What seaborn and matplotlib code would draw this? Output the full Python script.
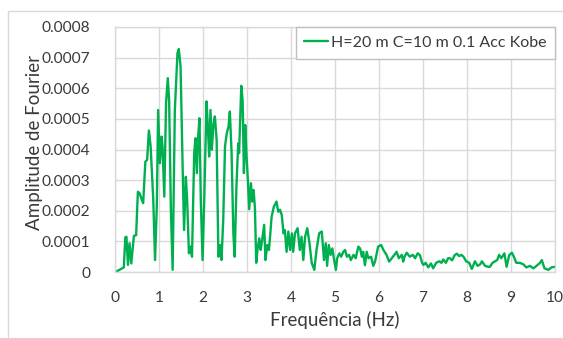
import numpy as np
import pandas as pd
import matplotlib
matplotlib.use("Agg")
import matplotlib.pyplot as plt
import seaborn as sns
from matplotlib.ticker import FuncFormatter
from matplotlib.patches import Rectangle

# Fourier amplitude spectrum (frequency in Hz, amplitude in units of 1e-4)
freq_hz = [
    0.00, 0.05, 0.10, 0.16, 0.20, 0.235, 0.26, 0.295, 0.33, 0.37, 0.43, 0.48,
    0.52, 0.56, 0.61, 0.64, 0.69, 0.73, 0.77, 0.81, 0.87, 0.91, 0.95, 0.98,
    1.02, 1.06, 1.08, 1.12, 1.16, 1.20, 1.23, 1.27, 1.31, 1.36, 1.42, 1.45,
    1.49, 1.54, 1.57, 1.61, 1.64, 1.68, 1.72, 1.75, 1.80, 1.83, 1.86, 1.89,
    1.92, 1.95, 1.99, 2.03, 2.08, 2.11, 2.14, 2.17, 2.20, 2.24, 2.27, 2.31,
    2.35, 2.39, 2.42, 2.46, 2.50, 2.54, 2.58, 2.61, 2.65, 2.69, 2.72, 2.76,
    2.80, 2.82, 2.87, 2.90, 2.93, 2.96, 2.99, 3.02, 3.05, 3.09, 3.12, 3.15,
    3.18, 3.21, 3.24, 3.28, 3.31, 3.34, 3.39, 3.42, 3.46, 3.50, 3.56, 3.61,
    3.67, 3.71, 3.75, 3.79, 3.83, 3.86, 3.90, 3.94, 3.98, 4.02, 4.05, 4.09,
    4.15, 4.20, 4.24, 4.28, 4.32, 4.37, 4.42, 4.47, 4.53, 4.58, 4.64, 4.67,
    4.70, 4.75, 4.79, 4.82, 4.86, 4.90, 4.94, 4.98, 5.02, 5.05, 5.10, 5.14,
    5.19, 5.23, 5.27, 5.32, 5.36, 5.42, 5.47, 5.53, 5.57, 5.61, 5.64, 5.68,
    5.72, 5.76, 5.82, 5.87, 5.91, 5.98, 6.05, 6.10, 6.17, 6.23, 6.29, 6.35,
    6.40, 6.45, 6.52, 6.55, 6.58, 6.63, 6.70, 6.77, 6.82, 6.88, 6.93, 6.98,
    7.01, 7.06, 7.12, 7.18, 7.23, 7.30, 7.37, 7.42, 7.46, 7.52, 7.57, 7.61,
    7.66, 7.72, 7.77, 7.82, 7.87, 7.92, 7.98, 8.05, 8.11, 8.18, 8.24, 8.30,
    8.34, 8.41, 8.48, 8.52, 8.58, 8.64, 8.69, 8.73, 8.78, 8.85, 8.90, 8.96,
    9.02, 9.07, 9.12, 9.20, 9.28, 9.35, 9.43, 9.51, 9.58, 9.66, 9.70, 9.76,
    9.85, 9.92, 10.00,
]
amp_e4 = [
    0.00, 0.03, 0.07, 0.12, 0.15, 1.13, 1.15, 0.23, 0.94, 0.28, 1.18, 1.20,
    2.62, 2.57, 2.35, 2.25, 3.60, 3.66, 4.62, 4.10, 2.35, 0.39, 2.13, 5.29,
    3.55, 4.42, 4.10, 2.46, 5.51, 6.33, 5.62, 2.03, 0.07, 5.29, 7.15, 7.28,
    6.71, 3.23, 1.37, 3.11, 2.35, 0.61, 0.83, 0.50, 3.88, 4.37, 3.23, 4.42,
    5.02, 2.35, 0.39, 2.46, 5.57, 4.75, 3.77, 5.29, 3.99, 4.86, 5.08, 4.31,
    0.50, 0.88, 0.39, 1.70, 4.10, 4.53, 4.75, 5.24, 3.88, 1.26, 0.50, 2.79,
    4.20, 3.88, 6.08, 5.62, 3.23, 4.80, 3.77, 3.00, 2.05, 2.90, 2.30, 2.68,
    2.10, 0.30, 0.75, 1.10, 0.72, 1.00, 1.54, 0.39, 0.88, 0.72, 1.81, 2.13,
    2.30, 1.97, 2.03, 1.86, 1.26, 1.37, 0.66, 1.32, 0.72, 1.26, 0.66, 1.26,
    1.43, 0.72, 1.15, 0.39, 1.15, 1.43, 0.94, 0.30, 0.07, 0.72, 1.26, 1.30,
    1.32, 0.39, 0.94, 0.20, 0.88, 0.56, 0.77, 0.39, 0.07, 0.45, 0.61, 0.50,
    0.66, 0.72, 0.50, 0.56, 0.39, 0.56, 0.45, 0.83, 0.77, 0.50, 0.66, 0.22,
    0.66, 0.45, 0.50, 0.20, 0.34, 0.83, 0.88, 0.72, 0.56, 0.34, 0.45, 0.56,
    0.66, 0.45, 0.56, 0.34, 0.50, 0.63, 0.50, 0.56, 0.45, 0.61, 0.55, 0.30,
    0.23, 0.30, 0.15, 0.28, 0.12, 0.30, 0.35, 0.30, 0.41, 0.30, 0.45, 0.45,
    0.38, 0.55, 0.60, 0.52, 0.56, 0.50, 0.35, 0.30, 0.10, 0.35, 0.20, 0.25,
    0.35, 0.20, 0.17, 0.17, 0.30, 0.35, 0.40, 0.56, 0.45, 0.61, 0.17, 0.55,
    0.63, 0.48, 0.30, 0.30, 0.25, 0.15, 0.20, 0.12, 0.20, 0.30, 0.39, 0.12,
    0.07, 0.15, 0.17,
]
series_label = "H=20 m C=10 m 0.1 Acc Kobe"
x_ticks = [0, 1, 2, 3, 4, 5, 6, 7, 8, 9, 10]
y_ticks = [0, 0.0001, 0.0002, 0.0003, 0.0004, 0.0005, 0.0006, 0.0007, 0.0008]

sns.set_theme(style="whitegrid")
plt.rcParams["font.family"] = ["Lato", "DejaVu Sans"]

grid_color = "#d9d9d9"
text_color = "#3a3a3a"
line_color = "#00b050"

fig = plt.figure(figsize=(5.63, 3.38), dpi=100)
fig.patch.set_facecolor("white")
ax = fig.add_axes([115 / 563, 1 - 272 / 338, 440 / 563, 245 / 338])

df = pd.DataFrame({
    "Frequência (Hz)": freq_hz,
    "Amplitude de Fourier": np.array(amp_e4) * 1e-4,
    "serie": series_label,
})
sns.lineplot(data=df, x="Frequência (Hz)", y="Amplitude de Fourier",
             hue="serie", palette=[line_color], linewidth=1.7, ax=ax)

ax.set_xlim(0, 10)
ax.set_ylim(0, 0.0008)
ax.set_xticks(x_ticks)
ax.set_yticks(y_ticks)
ax.yaxis.set_major_formatter(FuncFormatter(lambda v, p: "0" if abs(v) < 1e-12 else f"{v:.4f}"))
ax.grid(True, color=grid_color, linewidth=1.0)
ax.set_facecolor("white")
for s in ax.spines.values():
    s.set_color(grid_color)
    s.set_linewidth(1.0)
ax.tick_params(axis="both", length=0, labelsize=11.2, colors=text_color)
ax.tick_params(axis="x", pad=14)
ax.tick_params(axis="y", pad=18)
ax.set_xlabel("Frequência (Hz)", fontsize=13.5, color=text_color, labelpad=4)
ax.set_ylabel("Amplitude de Fourier", fontsize=13.5, color=text_color)
ax.yaxis.set_label_coords(-0.163, 0.527)

leg = ax.legend(loc="upper right", bbox_to_anchor=(1.0, 1.0), borderaxespad=0,
                frameon=True, fancybox=False, fontsize=11.5, handlelength=1.5,
                handletextpad=0.15, borderpad=0.55)
leg.get_frame().set_edgecolor("#bfbfbf")
leg.get_frame().set_linewidth(1.0)
leg.get_frame().set_alpha(1.0)
for t in leg.get_texts():
    t.set_color(text_color)

# outer chart border
fig.patches.append(Rectangle((8 / 563, -0.2), 2.0, 1.2 - 11 / 338, transform=fig.transFigure,
                             fill=False, edgecolor=grid_color, linewidth=1.0))

fig.savefig("out.png", dpi=100)
